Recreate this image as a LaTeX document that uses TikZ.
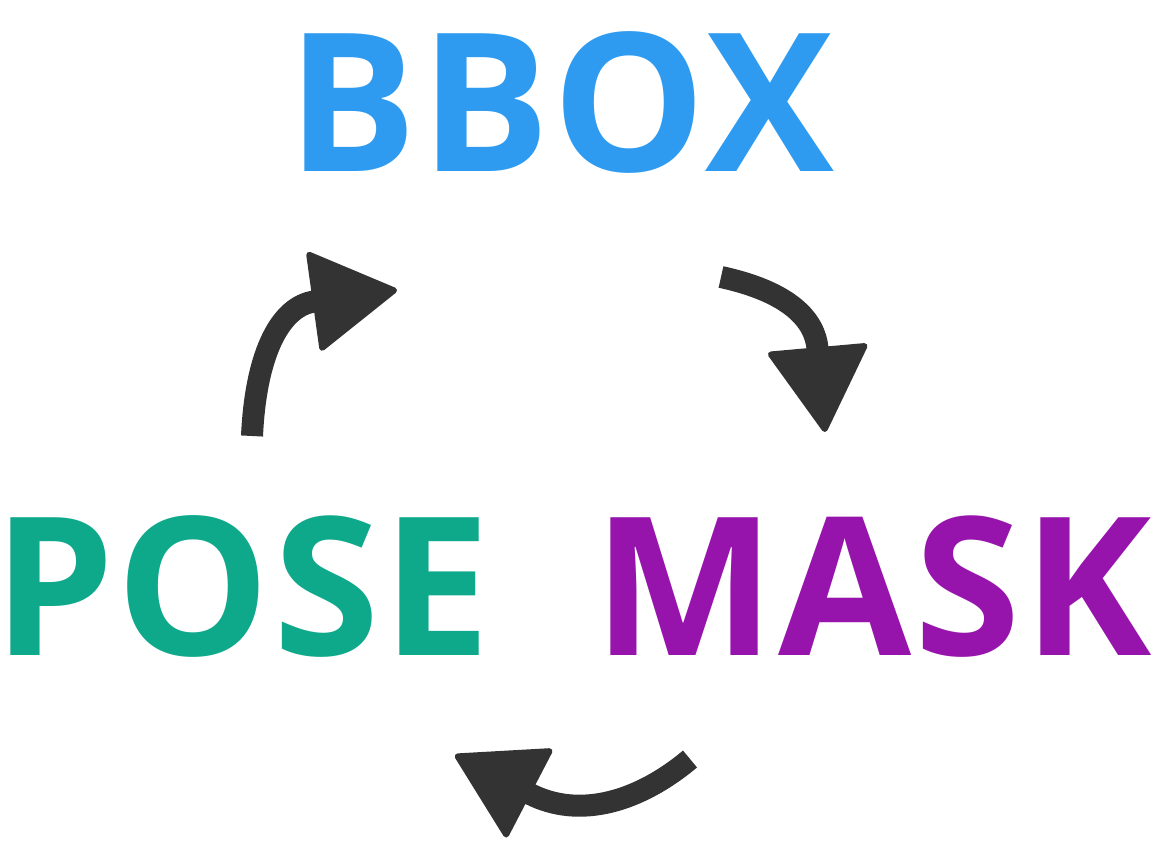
\documentclass[tikz,border=0pt]{standalone}
\usepackage{fontspec}
\setmainfont{Open Sans}
\usetikzlibrary{arrows.meta}
\definecolor{boxblue}{RGB}{46,155,240}
\definecolor{posegreen}{RGB}{14,168,138}
\definecolor{maskpurple}{RGB}{150,20,172}
\definecolor{arrowgray}{RGB}{51,51,51}
\tikzset{
  task/.style={anchor=base, inner sep=0pt,
    font=\bfseries\fontsize{193}{193}\selectfont\addfontfeature{LetterSpace=1.5}},
  cycle arrow/.style={arrowgray, line width=22pt,
    -{Triangle[length=88pt, width=103pt, round, line width=6pt]}},
}

\begin{document}
\begin{tikzpicture}[x=1pt, y=-1pt]
  \useasboundingbox (0,0) rectangle (1164,858);

  % the three tasks
  \node[task, text=boxblue]    (bbox) at (561,172) {BBOX};
  \node[task, text=posegreen]  (pose) at (242,655) {POSE};
  \node[task, text=maskpurple] (mask) at (873,655) {MASK};

  % ends of the arrows going round
  \coordinate (a1) at (252,436);
  \coordinate (b1) at (397,290);
  \coordinate (a2) at (721,277);
  \coordinate (b2) at (825,432);
  \coordinate (a3) at (690,759);
  \coordinate (b3) at (455,755);

  \draw[cycle arrow] (a1) .. controls (256,350) and (282,306) .. (b1);
  \draw[cycle arrow] (a2) .. controls (790,292) and (815,320) .. (b2);
  \draw[cycle arrow] (a3) .. controls (640,801) and (580,820) .. (b3);
\end{tikzpicture}
\end{document}
